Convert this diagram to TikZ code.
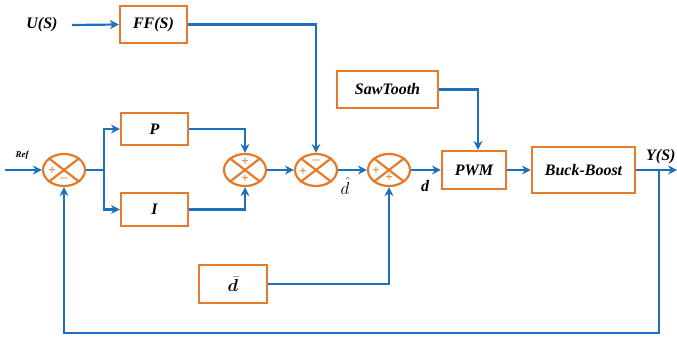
\documentclass[tikz,border=0pt]{standalone}
\usepackage{fontspec}
\usepackage{bm}
\setmainfont{Liberation Serif}
\usetikzlibrary{shapes.geometric,arrows.meta,calc}
\definecolor{orng}{RGB}{228,122,42}
\definecolor{blu}{RGB}{28,112,188}
\begin{document}
\begin{tikzpicture}[x=1pt,y=-1pt,
 blk/.style={draw=orng,line width=2.2pt,rectangle,inner sep=0pt,font=\bfseries\itshape\fontsize{16}{18}\selectfont},
 sumj/.style={draw=orng,line width=2.2pt,ellipse,minimum width=42pt,minimum height=32pt,inner sep=0pt},
 wire/.style={draw=blu,line width=2.2pt},
 arr/.style={wire,-{Stealth[length=9pt,width=9pt]}},
 sg/.style={text=orng,font=\bfseries\fontsize{13}{13}\selectfont,inner sep=0pt},
 lbl/.style={font=\bfseries\itshape\fontsize{16}{18}\selectfont,inner sep=1pt}]
\useasboundingbox (0,0) rectangle (677,340);

% blocks
\node[blk,minimum width=67pt,minimum height=37pt] (FF) at (153.5,24.5) {FF(S)};
\node[blk,minimum width=67pt,minimum height=32pt] (P) at (154.5,129) {P};
\node[blk,minimum width=67pt,minimum height=33pt] (I) at (154.5,209.5) {I};
\node[blk,minimum width=101pt,minimum height=37pt] (Saw) at (387.5,89.5) {SawTooth};
\node[blk,minimum width=64pt,minimum height=38pt] (PWM) at (474,170) {PWM};
\node[blk,minimum width=103pt,minimum height=46pt] (BB) at (583.5,170) {Buck-Boost};
\node[blk,minimum width=68pt,minimum height=38pt] (DB) at (233,284) {$\bar{\bm{d}}$};

% summing junctions
\foreach \n/\x in {S1/64,S2/245,S3/316,S4/389}{
  \node[sumj] (\n) at (\x,170) {};
  \draw[orng,line width=2.2pt] (\n.north east) -- (\n.south west) (\n.north west) -- (\n.south east);
}
% signs
\node[sg] (s1a) at (52,171) {+};
\node[sg] (s1b) at (64,178) {$\bm{-}$};
\node[sg] (s2a) at (245,162) {+};
\node[sg] (s2b) at (245,179) {+};
\node[sg] (s3a) at (316,160) {$\bm{-}$};
\node[sg] (s3b) at (303,172) {+};
\node[sg] (s4a) at (376,171) {+};
\node[sg] (s4b) at (389,178) {+};

% labels
\node[lbl] (U) at (42,25) {U(S)};
\node[font=\bfseries\itshape\fontsize{9}{10}\selectfont] (Ref) at (22,155) {Ref};
\node[font=\fontsize{16}{18}\selectfont,inner sep=0pt] (dh) at (345,186) {$\hat{d}$};
\node[lbl] (dl) at (425,186) {d};
\node[lbl,anchor=west] (Y) at (645,157) {Y(S)};

% coordinates
\coordinate (in) at (5,170);
\coordinate (br) at (104,170);
\coordinate (uin) at (72,25);
\coordinate (fb) at (659,170);
\coordinate (fb2) at (659,333);
\coordinate (out) at (677,170);

% connectors
\draw[arr] (in) -- (S1.west);
\draw[wire] (S1.east) -- (br);
\draw[arr] (br) |- (P.west);
\draw[arr] (br) |- (I.west);
\draw[arr] (P.east) -| (S2.north);
\draw[arr] (I.east) -| (S2.south);
\draw[arr] (S2.east) -- (S3.west);
\draw[arr] (S3.east) -- (S4.west);
\draw[arr] (S4.east) -- (PWM.west);
\draw[arr] (PWM.east) -- (BB.west);
\draw[arr] (BB.east) -- (out);
\draw[arr] (fb) -- (fb2) -| (S1.south);
\draw[arr] (uin) -- (FF.west);
\draw[arr] (FF.east) -| (S3.north);
\draw[arr] (Saw.east) -| ([xshift=4pt]PWM.north);
\draw[arr] (DB.east) -| (S4.south);
\end{tikzpicture}
\end{document}
